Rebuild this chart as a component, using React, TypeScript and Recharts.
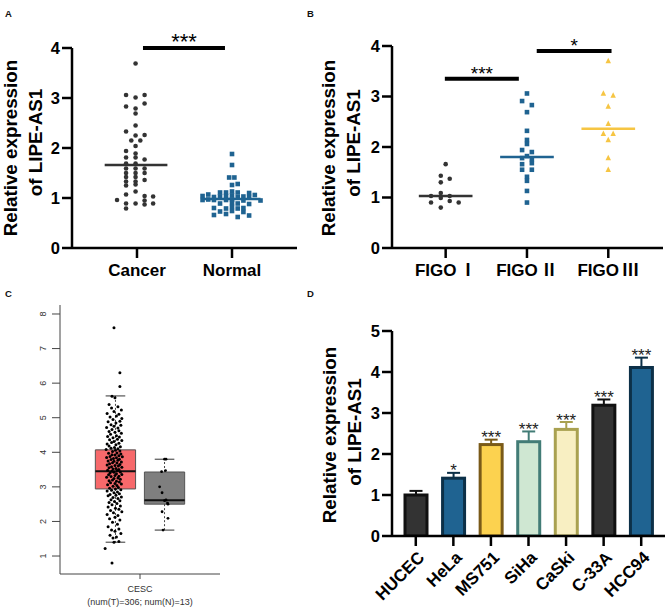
import React from "react";
import {
  ScatterChart,
  Scatter,
  BarChart,
  Bar,
  XAxis,
  YAxis,
  ReferenceLine,
  ReferenceArea,
} from "recharts";

const FONT = '"Liberation Sans", Arial, "Noto Sans CJK SC", sans-serif';

// ---------- A: tumour vs normal tissue (dx jitter, value) ----------
const groupsA = ["Cancer", "Normal"];
const cancerPts: [number, number][] = [
  [-0.015, 3.69], [-0.115, 3.06], [-0.015, 3.01], [0.08, 3.06], [-0.115, 2.83],
  [-0.015, 2.79], [0.08, 2.89], [-0.015, 2.69], [-0.015, 2.45], [-0.115, 2.33],
  [-0.015, 2.25], [0.08, 2.26], [-0.06, 2.15], [0.035, 2.15], [-0.015, 2.04],
  [-0.115, 1.94], [-0.015, 1.89], [-0.115, 1.81], [-0.015, 1.81], [0.08, 1.77],
  [-0.115, 1.69], [-0.015, 1.69], [-0.115, 1.59], [-0.015, 1.59], [0.08, 1.59],
  [-0.115, 1.5], [-0.015, 1.5], [0.08, 1.5], [-0.115, 1.42], [-0.015, 1.42],
  [0.08, 1.36], [-0.115, 1.33], [-0.015, 1.33], [-0.115, 1.25], [-0.015, 1.27],
  [-0.015, 1.13], [-0.115, 1.07], [-0.21, 0.96], [0.08, 1.04], [0.17, 1.03],
  [-0.115, 0.89], [-0.015, 0.89], [0.08, 0.95], [0.08, 0.87], [0.17, 0.89],
  [-0.115, 0.79],
];
const normalPts: [number, number][] = [
  [0, 1.88], [0, 1.66], [-0.03, 1.41], [0.025, 1.41], [0, 1.26], [0.06, 1.28],
  [-0.126, 1.11], [-0.063, 1.11], [0, 1.13], [0.06, 1.11], [0.18, 1.1],
  [-0.31, 1.04], [-0.25, 1.07], [-0.19, 1.02], [-0.126, 1.03], [-0.063, 1.04],
  [0, 1.05], [0.06, 1.02], [0.12, 1.03], [0.18, 1.02], [0.24, 1.06],
  [-0.31, 0.96], [-0.25, 0.97], [-0.19, 0.96], [-0.063, 0.96], [0, 0.97],
  [0.12, 0.95], [0.3, 0.95], [-0.126, 0.89], [0, 0.9], [0.06, 0.89], [0.18, 0.88],
  [-0.19, 0.8], [-0.063, 0.79], [0, 0.82], [0.06, 0.79], [0.12, 0.8],
  [-0.126, 0.73], [0, 0.74], [0.12, 0.72], [-0.19, 0.66], [-0.063, 0.68],
  [0.06, 0.62], [0.18, 0.65],
];
const mediansA = [1.66, 0.98];
const sigA = [{ x1: 1.063, x2: 1.926, y: 4, mark: "***" }];

// ---------- B: FIGO stage ----------
const groupsB = ["FIGO Ⅰ", "FIGO Ⅱ", "FIGO Ⅲ"];
const figo1Pts: [number, number][] = [
  [0, 1.66], [-0.06, 1.43], [0.05, 1.37], [-0.06, 1.3], [-0.18, 1.03], [-0.06, 1.09],
  [0.05, 1.03], [-0.06, 0.99], [-0.18, 0.9], [0.05, 0.93], [0.16, 0.9], [-0.06, 0.8],
];
const figo2Pts: [number, number][] = [
  [0, 3.06], [-0.06, 2.91], [0.06, 2.83], [0, 2.69], [0, 2.32], [0, 2.14], [0, 2.06],
  [-0.06, 1.94], [0.06, 1.9], [0, 1.82], [-0.06, 1.78], [0.06, 1.76], [-0.06, 1.66],
  [0.06, 1.68], [-0.06, 1.55], [0.06, 1.55], [0, 1.41], [0, 1.33], [0, 1.13], [0, 0.9],
];
const figo3Pts: [number, number][] = [
  [0, 3.7], [-0.06, 3.06], [0.06, 3.02], [0, 2.8], [0, 2.46], [-0.06, 2.26],
  [0.06, 2.26], [0, 2.14], [0, 1.78], [0, 1.55],
];
const mediansB = [1.03, 1.8, 2.36];
const sigB = [
  { x1: 0.99, x2: 1.9, y: 3.35, mark: "***" },
  { x1: 2.12, x2: 3.04, y: 3.9, mark: "*" },
];

// ---------- C: GEPIA box plot ----------
const cancerType = "CESC";
const groupSizes = [306, 13];
const boxQ1 = [2.94, 2.5];
const boxMedian = [3.45, 2.61];
const boxQ3 = [4.07, 3.43];
const whiskerLo = [1.4, 1.75];
const whiskerHi = [5.63, 3.8];
const tumorPts: [number, number][] = [
  [0.0, 7.6], [0.12, 6.3], [0.12, 5.9], [-0.04, 5.62], [0.02, 5.58],
  [-0.1, 5.38], [0.08, 5.32], [-0.05, 5.28], [0.15, 5.22], [0.0, 5.18], [-0.14, 5.12],
  [0.1, 5.1], [0.05, 5.05], [-0.08, 5.02], [0.16, 4.98],
  [-0.02, 4.95], [0.12, 4.9], [-0.12, 4.88], [0.04, 4.85], [-0.06, 4.8], [0.14, 4.78],
  [0.0, 4.75], [-0.15, 4.72], [0.08, 4.7], [-0.04, 4.66], [0.1, 4.62], [-0.1, 4.6],
  [0.02, 4.58], [0.15, 4.55], [-0.07, 4.52],
  [0.05, 4.48], [-0.13, 4.46], [0.11, 4.44], [-0.02, 4.42], [0.07, 4.38], [-0.09, 4.36],
  [0.16, 4.34], [0.0, 4.31], [-0.05, 4.28], [0.1, 4.26], [-0.14, 4.24], [0.04, 4.22],
  [-0.1, 4.18], [0.13, 4.16], [0.01, 4.14], [-0.06, 4.12], [0.08, 4.1], [-0.16, 4.08],
  [0.03, 4.06], [0.12, 4.04], [-0.03, 4.02],
  [0.06, 3.98], [-0.11, 3.97], [0.14, 3.95], [-0.04, 3.93], [0.02, 3.92], [0.1, 3.9],
  [-0.08, 3.88], [0.17, 3.87], [-0.15, 3.85], [0.05, 3.84], [-0.01, 3.82], [0.11, 3.8],
  [-0.06, 3.79], [0.08, 3.77], [-0.12, 3.75], [0.0, 3.74], [0.15, 3.72], [-0.03, 3.7],
  [0.06, 3.69], [-0.09, 3.67], [0.12, 3.65], [-0.14, 3.63], [0.02, 3.62], [0.09, 3.6],
  [-0.05, 3.58], [0.16, 3.57], [-0.1, 3.55], [0.04, 3.53], [-0.02, 3.52], [0.1, 3.5],
  [-0.13, 3.48], [0.07, 3.47], [-0.04, 3.45], [0.13, 3.43], [0.0, 3.42], [-0.08, 3.4],
  [0.05, 3.38], [0.16, 3.36], [-0.11, 3.35], [0.02, 3.33], [0.1, 3.31], [-0.06, 3.3],
  [-0.15, 3.28], [0.08, 3.26], [0.0, 3.24], [0.13, 3.22], [-0.03, 3.2], [-0.1, 3.18],
  [0.05, 3.16], [0.11, 3.14], [-0.07, 3.12], [0.02, 3.1], [0.15, 3.08], [-0.13, 3.06],
  [0.06, 3.04], [-0.02, 3.02],
  [0.09, 2.98], [-0.09, 2.96], [0.03, 2.94], [0.14, 2.92], [-0.05, 2.9], [-0.14, 2.88],
  [0.07, 2.85], [0.0, 2.83], [0.11, 2.8], [-0.08, 2.78], [0.04, 2.76], [-0.12, 2.74],
  [0.15, 2.71], [-0.02, 2.69], [0.08, 2.66], [-0.06, 2.63], [0.12, 2.6], [0.01, 2.58],
  [-0.1, 2.55], [0.06, 2.52],
  [-0.04, 2.48], [0.13, 2.45], [-0.12, 2.42], [0.03, 2.38], [0.1, 2.35], [-0.07, 2.32],
  [0.16, 2.28], [-0.01, 2.25], [-0.14, 2.2], [0.08, 2.17], [0.02, 2.12], [-0.09, 2.08],
  [0.12, 2.04],
  [-0.03, 1.98], [0.07, 1.92], [-0.12, 1.85], [0.1, 1.78], [-0.05, 1.75], [0.02, 1.72],
  [0.14, 1.65], [-0.08, 1.6], [0.05, 1.55], [-0.02, 1.52],
  [0.0, 1.4], [0.1, 1.42], [-0.18, 1.22], [-0.04, 0.8],
];
const normalTissuePts: [number, number][] = [
  [0, 3.8], [0.03, 3.8], [-0.06, 3.44], [0.02, 3.47], [-0.1, 3.0], [-0.05, 2.83],
  [0.03, 2.62], [0.0, 2.6], [0.06, 2.53], [0.07, 2.5], [-0.05, 2.28], [0.07, 2.09],
  [-0.03, 1.75],
];

// ---------- D: cell lines ----------
const cellLines = ["HUCEC", "HeLa", "MS751", "SiHa", "CaSki", "C-33A", "HCC94"];
const meanExpr = [1.0, 1.41, 2.23, 2.3, 2.6, 3.19, 4.11];
const sdExpr = [0.1, 0.13, 0.12, 0.25, 0.18, 0.14, 0.24];
const sigMarks = ["", "*", "***", "***", "***", "***", "***"];

// styles
const barFill = ["#333333", "#1f6391", "#fcd24f", "#cfe7d2", "#f8efc2", "#333333", "#1f6391"];
const barEdge = ["#111111", "#0c3048", "#7a5a18", "#427c76", "#a9a150", "#111111", "#0c3048"];
const DARK = "#333333";
const BLUE = "#1f6391";
const YELLOW = "#f6c543";

const tickFont = { fontFamily: FONT, fontWeight: 700, fontSize: 16.5, fill: "#000" };
const axisLine = { stroke: "#000", strokeWidth: 2.5 };

const yTitle = (bx1: number, c1: number, bx2: number, c2: number) => () => (
  <g style={{ fontFamily: FONT, fontWeight: 700, fontSize: 18.8 }} fill="#000">
    <text x={bx1} y={c1} transform={`rotate(-90 ${bx1} ${c1})`} textAnchor="middle">
      Relative expression
    </text>
    <text x={bx2} y={c2} transform={`rotate(-90 ${bx2} ${c2})`} textAnchor="middle">
      of LIPE-AS1
    </text>
  </g>
);

const dot = (fill: string, r: number) => (p: any) => (
  <circle cx={p.cx} cy={p.cy} r={r} fill={fill} />
);
const square = (fill: string, s: number) => (p: any) => (
  <rect x={p.cx - s / 2} y={p.cy - s / 2} width={s} height={s} fill={fill} />
);
const triangle = (fill: string, s: number) => (p: any) => (
  <path
    d={`M${p.cx},${p.cy - s * 0.6}L${p.cx + s / 2},${p.cy + s * 0.4}L${p.cx - s / 2},${p.cy + s * 0.4}Z`}
    fill={fill}
  />
);

const toXY = (pts: [number, number][], center: number) =>
  pts.map(([dx, y]) => ({ x: center + dx, y }));

const seg = (c: number, half: number, y: number) => [
  { x: c - half, y },
  { x: c + half, y },
];

const starLabel = (mark: string, size: number, offset: number) => ({
  value: mark,
  position: "top" as const,
  offset,
  fill: "#000",
  fontSize: size,
  fontFamily: FONT,
});

const figoTick = (p: any) => {
  const [stem, num] = String(groupsB[p.payload.value - 1]).split(" ");
  return (
    <text
      x={p.x}
      y={p.y + 12}
      textAnchor="middle"
      style={{ fontFamily: FONT, fontWeight: 700, fontSize: 17 }}
      fill="#000"
    >
      {stem}
      <tspan style={{ fontFamily: '"Noto Sans CJK SC", sans-serif', fontWeight: 700 }} dx={3}>
        {num}
      </tspan>
    </text>
  );
};

function PanelA() {
  const series = [toXY(cancerPts, 1), toXY(normalPts, 2)];
  return (
    <ScatterChart width={330} height={300} margin={{ top: 48, right: 33, bottom: 0, left: 0 }}>
      <XAxis
        type="number"
        dataKey="x"
        domain={[0.316, 2.684]}
        allowDataOverflow
        ticks={[1, 2]}
        interval={0}
        tickFormatter={(v: number) => groupsA[v - 1]}
        height={52}
        tickSize={10}
        tickMargin={6}
        tick={{ ...tickFont, fontSize: 17 }}
        axisLine={axisLine}
        tickLine={axisLine}
      />
      <YAxis
        type="number"
        dataKey="y"
        domain={[0, 4]}
        allowDataOverflow
        ticks={[0, 1, 2, 3, 4]}
        width={72}
        tickSize={10}
        tick={tickFont}
        axisLine={axisLine}
        tickLine={axisLine}
        label={yTitle(16.5, 148, 41.5, 142.5)}
      />
      <Scatter data={series[0]} shape={dot(DARK, 2.3)} isAnimationActive={false} />
      <Scatter data={series[1]} shape={square(BLUE, 4.6)} isAnimationActive={false} />
      <ReferenceLine segment={seg(2, 0.3, mediansA[1])} stroke={BLUE} strokeWidth={2.5} ifOverflow="visible" />
      <ReferenceLine segment={seg(0.99, 0.33, mediansA[0])} stroke={DARK} strokeWidth={2.5} ifOverflow="visible" />
      {sigA.map((s, i) => (
        <ReferenceLine
          key={i}
          segment={[{ x: s.x1, y: s.y }, { x: s.x2, y: s.y }]}
          stroke="#000"
          strokeWidth={4}
          ifOverflow="visible"
          label={starLabel(s.mark, 22, -1)}
        />
      ))}
    </ScatterChart>
  );
}

function PanelB() {
  const s1 = toXY(figo1Pts, 1);
  const s2 = toXY(figo2Pts, 2);
  const s3 = toXY(figo3Pts, 3);
  const colors = [DARK, BLUE, YELLOW];
  return (
    <ScatterChart width={369} height={300} margin={{ top: 46, right: 6, bottom: 0, left: 0 }}>
      <XAxis
        type="number"
        dataKey="x"
        domain={[0.34, 3.673]}
        allowDataOverflow
        ticks={[1, 2, 3]}
        interval={0}
        height={52}
        tickSize={10}
        tickMargin={6}
        tick={figoTick}
        axisLine={axisLine}
        tickLine={axisLine}
      />
      <YAxis
        type="number"
        dataKey="y"
        domain={[0, 4]}
        allowDataOverflow
        ticks={[0, 1, 2, 3, 4]}
        width={92}
        tickSize={10}
        tick={tickFont}
        axisLine={axisLine}
        tickLine={axisLine}
        label={yTitle(35.2, 148, 60.2, 143)}
      />
      <Scatter data={s1} shape={dot(DARK, 2.3)} isAnimationActive={false} />
      <Scatter data={s2} shape={square(BLUE, 4.6)} isAnimationActive={false} />
      <Scatter data={s3} shape={triangle(YELLOW, 5.5)} isAnimationActive={false} />
      {mediansB.map((m, i) => (
        <ReferenceLine key={i} segment={seg(i + 1, 0.33, m)} stroke={colors[i]} strokeWidth={2.5} ifOverflow="visible" />
      ))}
      {sigB.map((s, i) => (
        <ReferenceLine
          key={"s" + i}
          segment={[{ x: s.x1, y: s.y }, { x: s.x2, y: s.y }]}
          stroke="#000"
          strokeWidth={4}
          ifOverflow="visible"
          label={starLabel(s.mark, 19, -1)}
        />
      ))}
    </ScatterChart>
  );
}

const cYTick = (p: any) => {
  const x = p.x - 4;
  return (
    <text
      x={x}
      y={p.y}
      transform={`rotate(-90 ${x} ${p.y})`}
      textAnchor="middle"
      fontSize={9}
      fill="#333"
      fontFamily={FONT}
    >
      {p.payload.value}
    </text>
  );
};

const cXTick = (p: any) => (
  <g fontSize={9} fill="#333" fontFamily={FONT} textAnchor="middle">
    <text x={p.x} y={p.y + 11}>{cancerType}</text>
    <text x={p.x} y={p.y + 23.5}>
      {`(num(T)=${groupSizes[0]}; num(N)=${groupSizes[1]})`}
    </text>
  </g>
);

function PanelC() {
  const tumor = toXY(tumorPts, 0.97);
  const normal = toXY(normalTissuePts, 2);
  const frame = { stroke: "#444", strokeWidth: 1 };
  const boxFill = ["#f7696b", "#7f7f7f"];
  return (
    <ScatterChart width={300} height={308} margin={{ top: 5, right: 80, bottom: 0, left: 0 }}>
      <XAxis
        type="number"
        dataKey="x"
        domain={[-0.13, 3.13]}
        allowDataOverflow
        ticks={[1.5]}
        interval={0}
        height={34}
        tickSize={5}
        tick={cXTick}
        axisLine={frame}
        tickLine={frame}
      />
      <XAxis xAxisId="top" orientation="top" type="number" domain={[-0.13, 3.13]} height={0} tick={false} tickLine={false} axisLine={frame} />
      <YAxis
        type="number"
        dataKey="y"
        domain={[0.48, 8.26]}
        allowDataOverflow
        ticks={[1, 2, 3, 4, 5, 6, 7, 8]}
        interval={0}
        width={60}
        tickSize={8}
        tick={cYTick}
        axisLine={frame}
        tickLine={frame}
      />
      <YAxis yAxisId="right" orientation="right" type="number" domain={[0.48, 8.26]} width={0} tick={false} tickLine={false} axisLine={frame} />
      {[1, 2].map((c, i) => (
        <ReferenceArea
          key={"b" + i}
          x1={c - 0.41}
          x2={c + 0.41}
          y1={boxQ1[i]}
          y2={boxQ3[i]}
          fill={boxFill[i]}
          fillOpacity={1}
          stroke="#555"
          strokeWidth={1}
          ifOverflow="visible"
        />
      ))}
      {[1, 2].map((c, i) => (
        <React.Fragment key={"w" + i}>
          <ReferenceLine segment={[{ x: c, y: boxQ3[i] }, { x: c, y: whiskerHi[i] }]} stroke="#444" strokeDasharray="2 2" ifOverflow="visible" />
          <ReferenceLine segment={[{ x: c, y: boxQ1[i] }, { x: c, y: whiskerLo[i] }]} stroke="#444" strokeDasharray="2 2" ifOverflow="visible" />
          <ReferenceLine segment={seg(c, 0.2, whiskerHi[i])} stroke="#333" ifOverflow="visible" />
          <ReferenceLine segment={seg(c, 0.2, whiskerLo[i])} stroke="#333" ifOverflow="visible" />
        </React.Fragment>
      ))}
      <Scatter data={tumor} shape={dot("#000", 1.5)} isAnimationActive={false} />
      <Scatter data={normal} shape={dot("#000", 1.4)} isAnimationActive={false} />
      {[1, 2].map((c, i) => (
        <ReferenceLine key={"m" + i} segment={seg(c, 0.41, boxMedian[i])} stroke="#111" strokeWidth={2} ifOverflow="visible" />
      ))}
    </ScatterChart>
  );
}

const barShape = (p: any) => {
  const i = p.index;
  const cx = p.x + p.width / 2;
  const k = p.height / p.payload.mean;
  const top = p.y - p.payload.sd * k;
  const edge = barEdge[i];
  return (
    <g>
      <line x1={cx} x2={cx} y1={p.y} y2={top} stroke={edge} strokeWidth={2} />
      <line x1={cx - 6.5} x2={cx + 6.5} y1={top} y2={top} stroke={edge} strokeWidth={2} />
      <rect x={p.x} y={p.y} width={p.width} height={p.height} fill={barFill[i]} stroke={edge} strokeWidth={3} />
      {p.payload.sig ? (
        <text x={cx} y={top + 3.5} textAnchor="middle" fontSize={17} fill="#222" fontFamily={FONT}>
          {p.payload.sig}
        </text>
      ) : null}
    </g>
  );
};

function PanelD() {
  const data = cellLines.map((name, i) => ({
    name,
    mean: meanExpr[i],
    sd: sdExpr[i],
    sig: sigMarks[i],
  }));
  return (
    <BarChart width={369} height={308} data={data} margin={{ top: 31, right: 4, bottom: 0, left: 0 }}>
      <XAxis
        dataKey="name"
        height={72}
        padding={{ left: 5, right: 5 }}
        interval={0}
        tickSize={10}
        angle={-45}
        textAnchor="end"
        dx={1}
        dy={2}
        tick={{ fontFamily: FONT, fontWeight: 700, fontSize: 17, fill: "#000" }}
        axisLine={axisLine}
        tickLine={axisLine}
      />
      <YAxis
        type="number"
        domain={[0, 5]}
        allowDataOverflow
        ticks={[0, 1, 2, 3, 4, 5]}
        width={92}
        tickSize={10}
        tick={tickFont}
        axisLine={axisLine}
        tickLine={axisLine}
        label={yTitle(35.5, 135, 60.5, 132)}
      />
      <Bar dataKey="mean" barSize={22} shape={barShape} isAnimationActive={false} />
    </BarChart>
  );
}

const panelLetters = [
  { t: "A", x: 5, y: 17 },
  { t: "B", x: 307, y: 17 },
  { t: "C", x: 5, y: 297 },
  { t: "D", x: 307, y: 297 },
];

export default function App() {
  return (
    <div style={{ position: "absolute", left: 0, top: 0, width: 669, height: 608, background: "#fff" }}>
      <div style={{ position: "absolute", left: 0, top: 0 }}>
        <PanelA />
      </div>
      <div style={{ position: "absolute", left: 300, top: 0 }}>
        <PanelB />
      </div>
      <div style={{ position: "absolute", left: 0, top: 300 }}>
        <PanelC />
      </div>
      <div style={{ position: "absolute", left: 300, top: 300 }}>
        <PanelD />
      </div>
      <svg width={669} height={608} style={{ position: "absolute", left: 0, top: 0, pointerEvents: "none" }}>
        {panelLetters.map((l) => (
          <text key={l.t} x={l.x} y={l.y} fontSize={9.5} fontWeight={700} fontFamily={FONT} fill="#111">
            {l.t}
          </text>
        ))}
      </svg>
    </div>
  );
}
